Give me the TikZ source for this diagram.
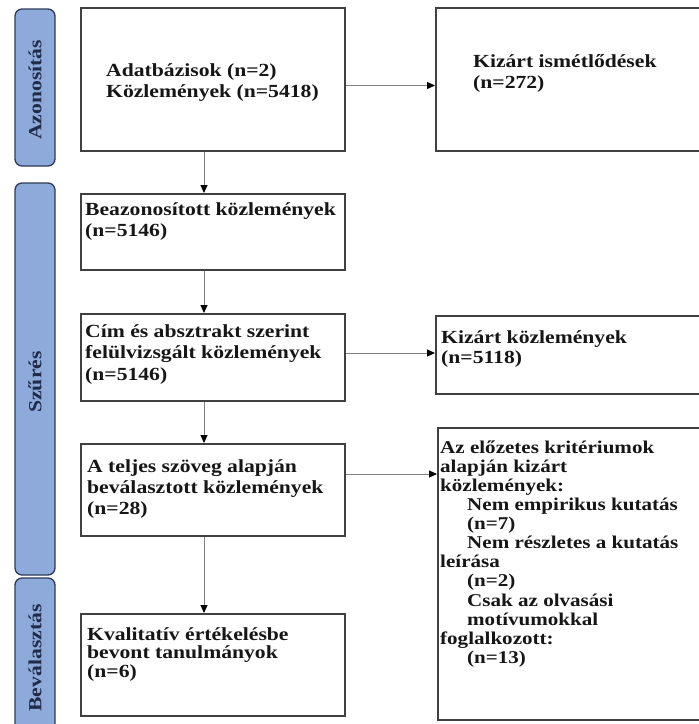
\documentclass[tikz,border=0pt]{standalone}
\usepackage{fontspec}
\setmainfont[FakeStretch=1.17]{Liberation Serif}
\usetikzlibrary{arrows.meta, calc}
\definecolor{cBand}{HTML}{8EAADB}
\definecolor{cBandLine}{HTML}{2E3B56}
\definecolor{cBandInk}{HTML}{1F2B48}
\definecolor{cFrame}{HTML}{404040}
\definecolor{cLink}{HTML}{808080}
\definecolor{cInk}{HTML}{161616}
\newcommand{\tstrut}{\rule{0pt}{14pt}}
\newcommand{\ind}{\hspace*{27pt}}

\begin{document}
\begin{tikzpicture}[x=1pt, y=-1pt,
  band/.style={draw=cBandLine,line width=1.3pt,fill=cBand,rounded corners=7pt},
  bandtxt/.style={rotate=90,text=cBandInk,inner sep=0pt,font=\fontsize{18.5}{21}\selectfont\bfseries},
  box/.style={draw=cFrame,line width=2pt,fill=white,anchor=north west,inner sep=0pt,minimum width=264pt},
  txt/.style={anchor=north west,align=left,inner sep=0pt,text=cInk,font=\fontsize{18.5}{21}\selectfont\bfseries},
  arr/.style={-{Triangle[length=8pt,width=7pt,color=black]},draw=cLink,line width=1pt}]
  \useasboundingbox (0,0) rectangle (699,724);
  \clip (0,0) rectangle (699,724);
  % phase bands
  \draw[band] (15,9) rectangle (55,166);
  \draw[band] (15,183) rectangle (55,575);
  \draw[band] (15,578) rectangle (55,736);
  \node[bandtxt] (bident) at (35,90) {Azonosítás};
  \node[bandtxt] (bscreen) at (35,382) {Szűrés};
  \node[bandtxt] (bincl) at (35,658) {Beválasztás};
  % main column
  \node[box, minimum height=143pt] (ident) at (80,7) {};
  \node[box, minimum height=76pt] (found) at (80,193) {};
  \node[box, minimum height=87pt] (titles) at (80,313) {};
  \node[box, minimum height=92pt] (fulltext) at (80,443) {};
  \node[box, minimum height=102pt] (incl) at (80,613) {};
  % exclusions
  \node[box, minimum width=275pt, minimum height=143pt] (dupl) at (435,7) {};
  \node[box, minimum width=275pt, minimum height=78pt] (excl) at (435,315) {};
  \node[box, minimum width=273pt, minimum height=292pt] (crit) at (437,427) {};
  % texts
  \node[txt] (identtxt) at (106,62) {\tstrut Adatbázisok (n=2)\\Közlemények (n=5418)};
  \node[txt] (dupltxt) at (473,53) {\tstrut Kizárt ismétlődések\\(n=272)};
  \node[txt] (foundtxt) at (85,201) {\tstrut Beazonosított közlemények\\(n=5146)};
  \node[txt, font=\fontsize{18.5}{21.5}\selectfont\bfseries] (titlestxt) at (85,323) {\tstrut Cím és absztrakt szerint\\felülvizsgált közlemények\\(n=5146)};
  \node[txt] (fulltexttxt) at (87,458) {\tstrut A teljes szöveg alapján\\beválasztott közlemények\\(n=28)};
  \node[txt, font=\fontsize{18.5}{18.5}\selectfont\bfseries] (incltxt) at (87,626) {\tstrut Kvalitatív értékelésbe\\bevont tanulmányok\\(n=6)};
  \node[txt, font=\fontsize{18.5}{20.5}\selectfont\bfseries] (excltxt) at (441,329) {\tstrut Kizárt közlemények\\(n=5118)};
  \node[txt, font=\fontsize{18}{19.1}\selectfont\bfseries] (crittxt) at (440,439) {\tstrut Az előzetes kritériumok\\alapján kizárt\\közlemények:\\\ind Nem empirikus kutatás\\\ind (n=7)\\\ind Nem részletes a kutatás\\leírása\\\ind (n=2)\\\ind Csak az olvasási\\\ind motívumokkal\\foglalkozott:\\\ind (n=13)};
  % connectors
  \draw[arr] ([yshift=-6pt]ident.east) -- ([yshift=-6pt]ident.east -| dupl.west);
  \draw[arr] ([yshift=4.5pt]titles.east) -- ([yshift=4.5pt]titles.east -| excl.west);
  \draw[arr] ([yshift=16pt]fulltext.east) -- ([yshift=16pt]fulltext.east -| crit.west);
  \draw[arr] ([xshift=-9pt]ident.south) -- ([xshift=-9pt]ident.south |- found.north);
  \draw[arr] ([xshift=-9pt]found.south) -- ([xshift=-9pt]found.south |- titles.north);
  \draw[arr] ([xshift=-9pt]titles.south) -- ([xshift=-9pt]titles.south |- fulltext.north);
  \draw[arr] ([xshift=-9pt]fulltext.south) -- ([xshift=-9pt]fulltext.south |- incl.north);
\end{tikzpicture}
\end{document}
